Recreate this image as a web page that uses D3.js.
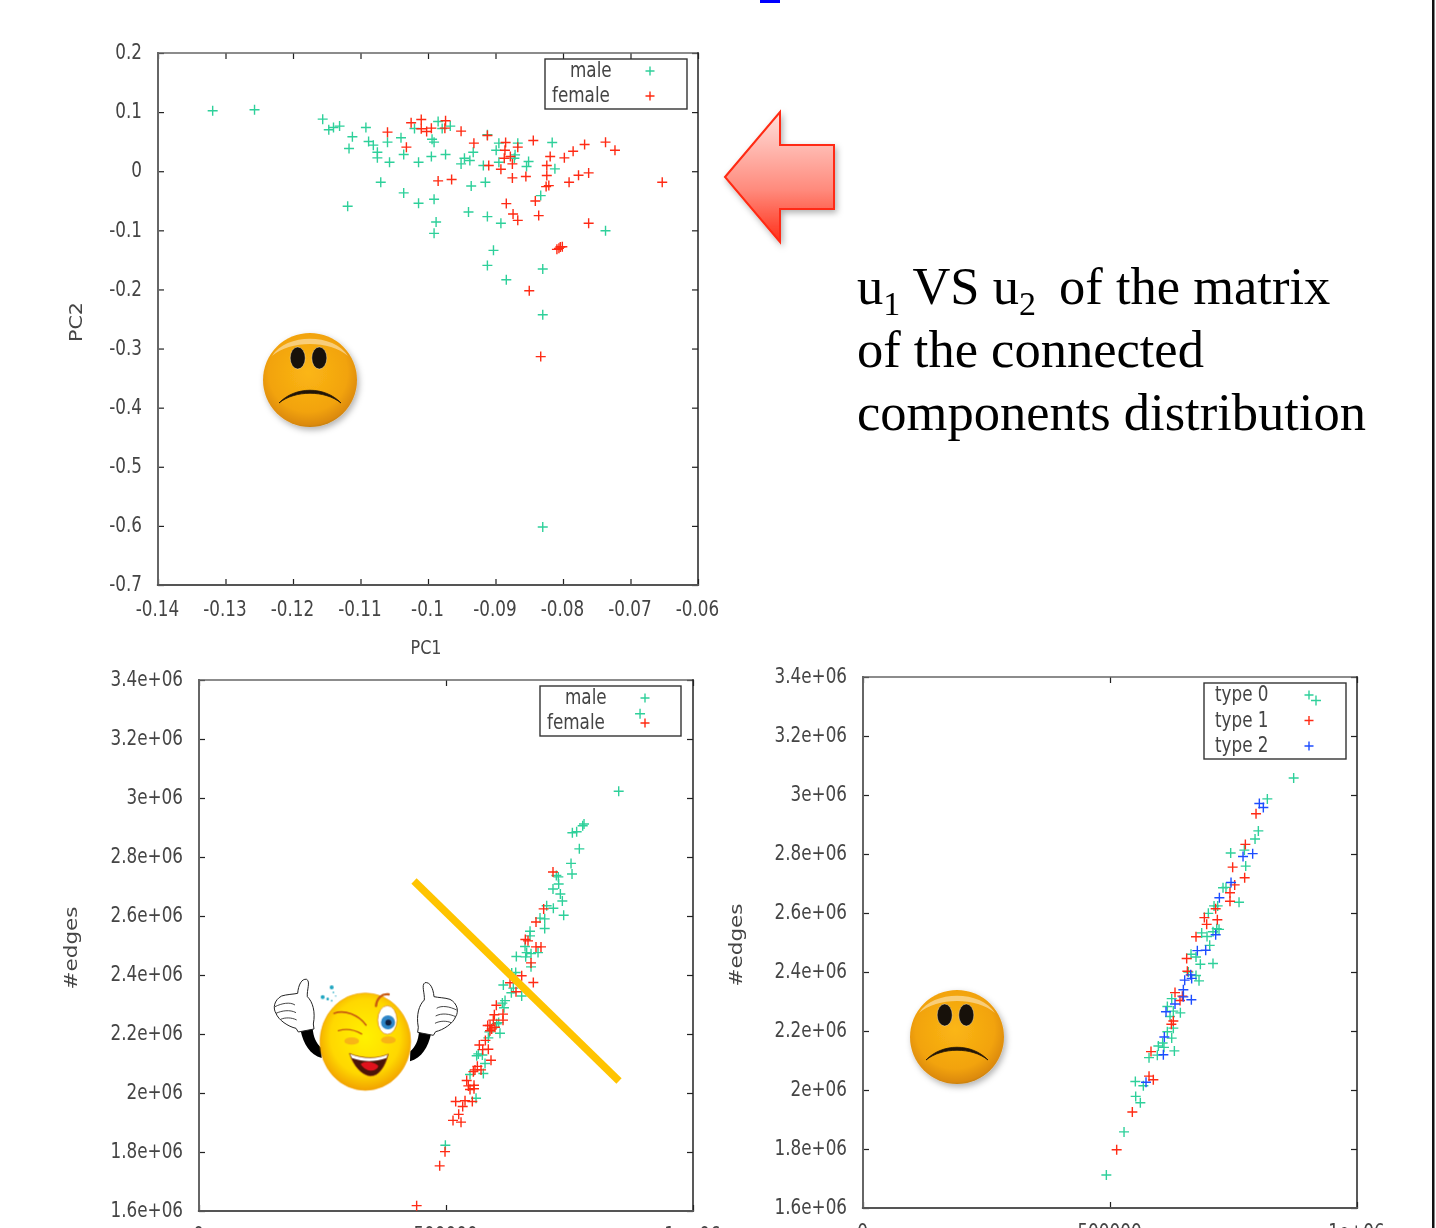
<!DOCTYPE html>
<html>
<head>
<meta charset="utf-8">
<script src="https://cdn.jsdelivr.net/npm/d3@7"></script>
<style>
  html, body { margin: 0; padding: 0; background: #fff; overflow: hidden; }
  svg { display: block; }
  text { font-family: "DejaVu Sans", sans-serif; }
</style>
</head>
<body>
<div id="chart"></div>
<script>
// PC1 / PC2 scatter, top panel
const pcaMale = [[-0.1319,0.1023],[-0.1257,0.1040],[-0.1156,0.0881],[-0.1147,0.0701],[-0.1140,0.0740],[-0.1131,0.0763],[-0.1112,0.0582],[-0.1117,0.0384],[-0.1092,0.0740],[-0.1088,0.0503],[-0.1081,0.0441],[-0.1075,0.0322],[-0.1075,0.0226],[-0.1057,0.0153],[-0.1060,0.0492],[-0.1040,0.0565],[-0.1036,0.0282],[-0.1070,-0.0186],[-0.1036,-0.0367],[-0.1119,-0.0593],[-0.1020,0.0723],[-0.1014,0.0153],[-0.1014,-0.0542],[-0.0995,0.0249],[-0.0994,0.0542],[-0.0991,0.0492],[-0.0985,0.0842],[-0.0979,0.0723],[-0.0967,0.0763],[-0.0974,0.0282],[-0.0991,-0.0475],[-0.0988,-0.0859],[-0.0991,-0.1051],[-0.0951,0.0124],[-0.0946,0.0220],[-0.0938,0.0181],[-0.0933,0.0322],[-0.0936,-0.0249],[-0.0940,-0.0689],[-0.0915,-0.0186],[-0.0912,-0.0768],[-0.0918,0.0096],[-0.0912,0.0616],[-0.0899,0.0356],[-0.0895,0.0153],[-0.0895,0.0475],[-0.0871,0.0277],[-0.0872,0.0220],[-0.0867,0.0475],[-0.0854,0.0079],[-0.0851,0.0164],[-0.0892,-0.0881],[-0.0903,-0.1339],[-0.0912,-0.1593],[-0.0884,-0.1836],[-0.0830,-0.1655],[-0.0830,-0.2429],[-0.0833,-0.0412],[-0.0816,0.0486],[-0.0812,0.0040],[-0.0737,-0.1006],[-0.0830,-0.6020]];
const pcaFemale = [[-0.1060,0.0661],[-0.1032,0.0407],[-0.1025,0.0819],[-0.1010,0.0876],[-0.1010,0.0718],[-0.1002,0.0672],[-0.0995,0.0729],[-0.0974,0.0853],[-0.0975,0.0729],[-0.0951,0.0678],[-0.0985,-0.0164],[-0.0965,-0.0141],[-0.0932,0.0475],[-0.0912,0.0605],[-0.0910,0.0096],[-0.0892,0.0034],[-0.0885,0.0486],[-0.0886,0.0356],[-0.0887,0.0220],[-0.0878,0.0249],[-0.0875,0.0124],[-0.0875,-0.0113],[-0.0867,0.0407],[-0.0855,-0.0090],[-0.0844,0.0520],[-0.0884,-0.0548],[-0.0874,-0.0723],[-0.0867,-0.0831],[-0.0836,-0.0751],[-0.0841,-0.0503],[-0.0825,-0.0260],[-0.0821,-0.0243],[-0.0824,-0.0073],[-0.0824,0.0096],[-0.0819,0.0249],[-0.0798,0.0226],[-0.0785,0.0339],[-0.0768,0.0452],[-0.0737,0.0492],[-0.0723,0.0356],[-0.0762,-0.0028],[-0.0777,-0.0068],[-0.0791,-0.0186],[-0.0653,-0.0186],[-0.0762,-0.0881],[-0.0809,-0.1322],[-0.0806,-0.1305],[-0.0804,-0.1282],[-0.0801,-0.1277],[-0.0850,-0.2023],[-0.0833,-0.3136]];
const pcaXTicks = [-0.14,-0.13,-0.12,-0.11,-0.1,-0.09,-0.08,-0.07,-0.06];
const pcaYTicks = [0.2,0.1,0,-0.1,-0.2,-0.3,-0.4,-0.5,-0.6,-0.7];

// #edges scatters, both in thousands
const edgesMale = [[849.6,3022.9],[779.4,2912.1],[776.7,2906],[764.5,2885.5],[755.8,2882],[769.9,2827.7],[753.1,2778.3],[755.1,2742.2],[723.4,2737.4],[727.4,2732.5],[728.1,2708.4],[716.6,2691.6],[731.5,2674.7],[735.5,2650.6],[738.2,2602.4],[717.3,2626.5],[703.8,2635],[699.8,2590.4],[690.3,2592.8],[699.8,2557.8],[670.1,2548.2],[670.1,2532.5],[660,2496.4],[663.3,2475.9],[672.1,2472.3],[661.3,2461.5],[686.3,2475.9],[672.1,2427.7],[642.4,2462.7],[641.1,2408.5],[633,2407.2],[616.1,2366.3],[632.3,2339.8],[636.3,2355.4],[653.2,2329],[619.5,2313.3],[614.1,2304.8],[617.4,2289.2],[609.3,2202.4],[606.6,2238.6],[602.6,2235],[587.7,2207.2],[585.7,2186.8],[562.1,2126.5],[565.5,2132.6],[573.6,2129],[579,2100],[575.6,2066.3],[548.6,2062.7],[560.8,1982],[498.7,1823],[892.8,3285.5]];
const edgesFemale = [[716.6,2749.4],[697.7,2624.1],[682.2,2579.5],[660.6,2520.5],[666,2515.7],[682.2,2495.2],[692.3,2495.2],[672.1,2441],[676.8,2374.7],[653.2,2397.6],[629.6,2373.5],[641.7,2343.4],[601.9,2297.6],[597.9,2265.1],[615.4,2267.5],[615.4,2247],[595.8,2247],[584.4,2229],[589.1,2229],[599.2,2223],[589.1,2211],[592.5,2217],[579.7,2178.3],[567.5,2162.7],[574.3,2147],[585.7,2148.2],[591.1,2111],[563.5,2090.4],[558.7,2078.3],[555.4,2072.3],[570.9,2078.3],[541.9,2042.2],[556.7,2026.5],[545.2,2024.1],[556.7,2014.5],[548.6,2012.1],[519.6,1971.1],[538.5,1973.5],[553.3,1971.1],[533.8,1954.2],[525.7,1927.7],[514.2,1907.2],[530.4,1901.2],[498,1801.2],[487.2,1753],[440.6,1618.1]];
const edgesType0 = [[917,3320.5],[871.8,3057.8],[818.5,2986.8],[800.3,2878.3],[793.6,2850.6],[744.3,2803.6],[772,2813.3],[774.7,2759],[728.8,2685.6],[734.8,2686.8],[761.2,2636.2],[710.6,2624.1],[718,2624.1],[699.1,2598.8],[685.6,2532.5],[696.4,2520.5],[708.5,2536.2],[720.7,2544.6],[716,2547],[701.8,2490.4],[664,2460.3],[674.1,2450.6],[682.9,2426.5],[708.5,2429],[658.6,2400],[674.1,2388],[680.2,2370],[624.9,2309.7],[616.1,2283.2],[642.4,2261.5],[628.2,2267.5],[621.5,2249.4],[628.2,2209.7],[616.1,2197.6],[624.9,2176],[606.6,2159.1],[597.9,2149.4],[609.3,2144.6],[630.3,2132.6],[595.8,2118.1],[579,2109.7],[551.3,2029],[567.5,2014.5],[552,1978.3],[561.4,1956.6],[528.4,1857.9],[492.6,1712.1]];
const edgesType1 = [[795.6,2936.2],[774,2832.5],[748.3,2755.4],[772.6,2719.3],[752.4,2695.2],[742.9,2668.7],[742.9,2639.8],[713.9,2614.5],[691,2584.4],[717.3,2577.1],[695.7,2561.5],[674.1,2519.3],[655.2,2445.8],[656.6,2402.4],[631.6,2330.1],[646.5,2318.1],[641.7,2303.6],[628.2,2233.8],[624.2,2222.9],[583,2130.1],[579,2047],[587.7,2035],[545.2,1925.3],[513.5,1797.6]];
const edgesType2 = [[802.3,2971.1],[810.4,2957.8],[788.8,2801.2],[769.3,2791.6],[745,2703.6],[721.4,2651.8],[713.9,2526.5],[676.8,2472.3],[693.7,2473.5],[663.3,2390.4],[665.3,2378.3],[651.2,2372.3],[648.5,2339.8],[631.6,2291.6],[648.5,2315.7],[664.7,2306],[613.4,2265.1],[610,2179.5],[608,2119.3],[572.9,2026.5]];
const edgesXTicks = [0,500,1000];
const edgesXLabels = ["0","500000","1e+06"];
const edgesYTicks = [3400,3200,3000,2800,2600,2400,2200,2000,1800,1600];
const edgesYLabels = ["3.4e+06","3.2e+06","3e+06","2.8e+06","2.6e+06","2.4e+06","2.2e+06","2e+06","1.8e+06","1.6e+06"];

const green = "#2fd09a", red = "#ff2a12", blue = "#1f4dff";

let svg = d3.select("#chart").append("svg")
  .attr("width", 1436)
  .attr("height", 1228);

let defs = svg.append("defs");

function gradient(id, stops, radial) {
  let g = defs.append(radial ? "radialGradient" : "linearGradient").attr("id", id);
  if (radial) {
    g.attr("cx", radial[0]).attr("cy", radial[1]).attr("r", radial[2]);
  } else {
    g.attr("x1", 0).attr("y1", 0).attr("x2", 0).attr("y2", 1);
  }
  stops.forEach(function(s) {
    g.append("stop").attr("offset", s[0]).attr("stop-color", s[1]);
  });
}
gradient("arrowFill", [[0, "#ffe0dc"], [0.6, "#ff8a7c"], [1, "#ff2f18"]]);
gradient("frownFill", [[0, "#fbb614"], [0.7, "#f2a30e"], [0.93, "#dc8a0c"], [1, "#b87a18"]], ["48%", "42%", "60%"]);
gradient("winkFill", [[0, "#fff200"], [0.7, "#ffd800"], [1, "#f2a200"]], ["50%", "45%", "55%"]);

let shadow = defs.append("filter").attr("id", "shadow")
  .attr("x", "-20%").attr("y", "-20%").attr("width", "150%").attr("height", "150%");
shadow.append("feDropShadow").attr("dx", 2).attr("dy", 3).attr("stdDeviation", 3)
  .attr("flood-color", "#000").attr("flood-opacity", 0.3);

// the plots are an upscaled bitmap in the picture, so keep them a touch soft
defs.append("filter").attr("id", "soft").append("feGaussianBlur").attr("stdDeviation", 0.35);

// squeezes text horizontally the way the scaled plot image does
function squeeze(sel, factor) {
  sel.each(function() {
    let len = this.getComputedTextLength();
    d3.select(this).attr("textLength", len * factor).attr("lengthAdjust", "spacingAndGlyphs");
  });
}

function plus(x, y, color, parent, size) {
  parent.append("path")
    .attr("d", d3.line()([[x - size, y], [x + size, y]]) + d3.line()([[x, y - size], [x, y + size]]))
    .attr("stroke", color)
    .attr("stroke-width", 1.4)
    .attr("fill", "none");
}

function panel(o) {
  let x = d3.scaleLinear().domain(o.xDomain).range([o.left, o.right]);
  let y = d3.scaleLinear().domain(o.yDomain).range([o.bottom, o.top]);
  let g = svg.append("g").attr("filter", "url(#soft)");

  let axes = [
    [d3.axisBottom(x), "translate(0," + o.bottom + ")", o.xTicks, o.xLabels, true],
    [d3.axisTop(x), "translate(0," + o.top + ")", o.xTicks, null, false],
    [d3.axisLeft(y), "translate(" + o.left + ",0)", o.yTicks, o.yLabels, true],
    [d3.axisRight(y), "translate(" + o.right + ",0)", o.yTicks, null, false]
  ];
  axes.forEach(function(a, i) {
    let axis = a[0].tickValues(a[2]).tickSizeInner(-6).tickSizeOuter(0).tickPadding(16)
      .tickFormat(function(d, k) { return a[3] ? a[3][k] : ""; });
    let ag = g.append("g").attr("transform", a[1]).call(axis);
    ag.select(".domain").remove();
    ag.selectAll("line").attr("stroke", "#222").attr("stroke-width", 1.2);
    ag.selectAll("text").attr("font-size", 21).attr("fill", "#444").style("font-family", '"DejaVu Sans"').call(squeeze, 0.8);
    if (i == 2) ag.selectAll("text").attr("dy", "0.27em");
    if (i == 0) ag.selectAll("text").attr("x", -1);
  });

  // frame: left and bottom read heavier in the picture
  let frame = [
    [o.left, o.top, o.right, o.top, "#666", 1.5],
    [o.right, o.top, o.right, o.bottom, "#222", 1.5],
    [o.left, o.top, o.left, o.bottom, "#666", 2],
    [o.left, o.bottom, o.right, o.bottom, "#555", 2.2]
  ];
  g.selectAll(".frame").data(frame).enter().append("line")
    .attr("x1", function(d) { return d[0]; }).attr("y1", function(d) { return d[1]; })
    .attr("x2", function(d) { return d[2]; }).attr("y2", function(d) { return d[3]; })
    .attr("stroke", function(d) { return d[4]; })
    .attr("stroke-width", function(d) { return d[5]; })
    .attr("stroke-linecap", "square");

  // legend box
  let l = o.legend;
  g.append("rect").attr("x", l.x).attr("y", l.y).attr("width", l.w).attr("height", l.h)
    .attr("fill", "#fff").attr("stroke", "#333").attr("stroke-width", 1.4);
  o.series.forEach(function(s, i) {
    let ty = l.y + 12 + i * l.step;
    g.append("text").attr("x", s.labelX).attr("y", ty + 6)
      .attr("font-size", 21).attr("fill", "#444").text(s.name).call(squeeze, 0.8);
    plus(l.markX, ty, s.color, g, 4.5);
  });

  // points, one series after the other
  o.series.forEach(function(s) {
    let sg = g.append("g");
    s.data.forEach(function(d) {
      plus(x(d[0]), y(d[1]), s.color, sg, 5);
    });
  });

  // axis titles
  o.yTitle.forEach(function(t) {
    g.append("text")
      .attr("transform", "translate(" + t.x + "," + t.y + ") rotate(-90)")
      .attr("text-anchor", "middle")
      .attr("font-size", t.size).attr("fill", "#444")
      .attr("textLength", t.len).attr("lengthAdjust", "spacingAndGlyphs")
      .text(t.text);
  });
  if (o.xTitle) {
    g.append("text").attr("x", o.xTitle.x).attr("y", o.xTitle.y)
      .attr("text-anchor", "middle")
      .attr("font-size", o.xTitle.size).attr("fill", "#444")
      .attr("textLength", o.xTitle.len).attr("lengthAdjust", "spacingAndGlyphs")
      .text(o.xTitle.text);
  }
}

function fmtPca(d) { return String(d); }

panel({
  left: 158, right: 698, top: 53, bottom: 585,
  xDomain: [-0.14, -0.06], yDomain: [-0.7, 0.2],
  xTicks: pcaXTicks, yTicks: pcaYTicks,
  xLabels: pcaXTicks.map(fmtPca), yLabels: pcaYTicks.map(fmtPca),
  legend: { x: 545, y: 59, w: 142, h: 50, step: 25, markX: 650 },
  series: [
    { name: "male", data: pcaMale, color: green, labelX: 570 },
    { name: "female", data: pcaFemale, color: red, labelX: 552 }
  ],
  yTitle: [{ text: "PC2", x: 82, y: 322, size: 17, len: 40 }],
  xTitle: { text: "PC1", x: 426, y: 654, size: 20, len: 31 }
});

panel({
  left: 199, right: 693, top: 680, bottom: 1211,
  xDomain: [0, 1000], yDomain: [1600, 3400],
  xTicks: edgesXTicks, yTicks: edgesYTicks,
  xLabels: edgesXLabels, yLabels: edgesYLabels,
  legend: { x: 540, y: 686, w: 141, h: 50, step: 25, markX: 645 },
  series: [
    { name: "male", data: edgesMale, color: green, labelX: 565 },
    { name: "female", data: edgesFemale, color: red, labelX: 547 }
  ],
  yTitle: [{ text: "#edges", x: 77, y: 948, size: 17, len: 83 }]
});

panel({
  left: 863, right: 1357, top: 677, bottom: 1208,
  xDomain: [0, 1000], yDomain: [1600, 3400],
  xTicks: edgesXTicks, yTicks: edgesYTicks,
  xLabels: edgesXLabels, yLabels: edgesYLabels,
  legend: { x: 1204, y: 683, w: 142, h: 76, step: 25.5, markX: 1309 },
  series: [
    { name: "type 0", data: edgesType0, color: green, labelX: 1215 },
    { name: "type 1", data: edgesType1, color: red, labelX: 1215 },
    { name: "type 2", data: edgesType2, color: blue, labelX: 1215 }
  ],
  yTitle: [{ text: "#edges", x: 742, y: 945, size: 17, len: 83 }]
});

// slide furniture
svg.append("rect").attr("x", 760).attr("y", 0).attr("width", 20).attr("height", 3).attr("fill", "#0000ff");
svg.append("rect").attr("x", 1432).attr("y", 0).attr("width", 2.5).attr("height", 1228).attr("fill", "#111");

svg.append("polygon")
  .attr("points", "725,177 780,112 780,145 834,145 834,209 780,209 780,242")
  .attr("fill", "url(#arrowFill)")
  .attr("stroke", "#ff2a12").attr("stroke-width", 2)
  .attr("filter", "url(#shadow)");

let caption = svg.append("g").attr("font-size", 52.5).attr("fill", "#000");
let line1 = caption.append("text").attr("x", 857).attr("y", 304).style("font-family", '"Liberation Serif"');
line1.append("tspan").text("u");
line1.append("tspan").attr("font-size", 34).attr("dy", 11).text("1");
line1.append("tspan").attr("dy", -11).text(" VS u");
line1.append("tspan").attr("font-size", 34).attr("dy", 11).text("2");
line1.append("tspan").attr("dy", -11).attr("dx", 10).text(" of the matrix");
caption.append("text").attr("x", 857).attr("y", 367).style("font-family", '"Liberation Serif"').text("of the connected");
caption.append("text").attr("x", 857).attr("y", 430).style("font-family", '"Liberation Serif"').text("components distribution");

svg.append("line")
  .attr("x1", 414).attr("y1", 881).attr("x2", 619).attr("y2", 1081)
  .attr("stroke", "#ffc400").attr("stroke-width", 7.5);

function frown(cx, cy) {
  let g = svg.append("g").attr("transform", "translate(" + cx + "," + cy + ")");
  g.append("circle").attr("r", 47).attr("fill", "url(#frownFill)").attr("filter", "url(#shadow)");
  // pale gloss along the top rim
  g.append("path").attr("d", "M-38,-24 C-24,-47 24,-47 38,-24 C20,-40 -20,-40 -38,-24 Z")
    .attr("fill", "#fff").attr("opacity", 0.45);
  [-12.3, 9.3].forEach(function(ex) {
    g.append("ellipse").attr("cx", ex).attr("cy", -22).attr("rx", 7.5).attr("ry", 11)
      .attr("fill", "#17110a").attr("stroke", "#fff").attr("stroke-opacity", 0.35).attr("stroke-width", 1);
  });
  g.append("path")
    .attr("d", "M-31,23 C-15,6 15,6 31,23 C15,10 -15,10 -31,23 Z")
    .attr("fill", "#201408").attr("stroke", "#201408").attr("stroke-width", 0.8);
}
frown(310, 380);
frown(957, 1037);

// winking face, drawn at 3x and scaled down
let wink = svg.append("g").attr("transform", "translate(250,960) scale(0.3333)");

function glove(parent) {
  parent.append("path")
    .attr("d", "M152,212 L188,205 C190,230 198,250 214,264 L215,294 C180,285 160,250 152,212 Z")
    .attr("fill", "#000");
  parent.append("path")
    .attr("d", "M143,100 C145,75 155,55 170,58 C182,65 170,90 172,110 C188,125 197,155 190,192 L192,207 L145,216 L138,205 C115,200 85,180 78,160 C68,145 72,120 95,108 C110,103 130,103 143,100 Z")
    .attr("fill", "#fff").attr("stroke", "#222").attr("stroke-width", 3);
  ["M75,140 C95,130 120,125 135,135", "M78,160 C95,152 120,148 138,158", "M92,178 C105,172 125,172 140,180"].forEach(function(f) {
    parent.append("path").attr("d", f).attr("fill", "none").attr("stroke", "#222").attr("stroke-width", 2.5);
  });
}
glove(wink.append("g"));
glove(wink.append("g").attr("transform", "translate(695,10) scale(-1,1)"));

wink.append("ellipse").attr("cx", 346).attr("cy", 245).attr("rx", 136).attr("ry", 146)
  .attr("fill", "url(#winkFill)").attr("stroke", "#f0a000").attr("stroke-width", 2);
[[245, 82, 6], [218, 111, 6], [233, 117, 4], [250, 97, 2.5], [245, 122, 2.5], [257, 108, 2]].forEach(function(c) {
  wink.append("circle").attr("cx", c[0]).attr("cy", c[1]).attr("r", c[2]).attr("fill", "#1ea5c0");
});
wink.append("ellipse").attr("cx", 412).attr("cy", 180).attr("rx", 29).attr("ry", 43).attr("fill", "#fff").attr("stroke", "#d87a10").attr("stroke-width", 2);
wink.append("circle").attr("cx", 414).attr("cy", 187).attr("r", 21).attr("fill", "#2f86c8");
wink.append("circle").attr("cx", 415).attr("cy", 188).attr("r", 9).attr("fill", "#102040");
[["M378,138 C380,115 395,100 416,103", 7], ["M252,160 C285,148 325,165 348,195", 5], ["M265,212 C290,205 315,210 335,222", 4]].forEach(function(b) {
  wink.append("path").attr("d", b[0]).attr("fill", "none").attr("stroke", "#c85a10")
    .attr("stroke-width", b[1]).attr("stroke-linecap", "round");
});
[[305, 243], [415, 240]].forEach(function(c) {
  wink.append("ellipse").attr("cx", c[0]).attr("cy", c[1]).attr("rx", 22).attr("ry", 11).attr("fill", "#f5a020").attr("opacity", 0.7);
});
wink.append("path").attr("d", "M298,280 C340,297 380,297 415,282 C405,322 385,350 360,348 C335,345 310,318 298,280 Z")
  .attr("fill", "#4a1408").attr("stroke", "#b05a10").attr("stroke-width", 2);
wink.append("path").attr("d", "M300,282 C340,298 380,298 413,284 L409,294 C375,306 340,306 306,294 Z").attr("fill", "#fff");
wink.append("path").attr("d", "M332,312 C345,300 375,305 385,318 C380,335 350,340 332,312 Z").attr("fill", "#e0121c");
</script>
</body>
</html>
